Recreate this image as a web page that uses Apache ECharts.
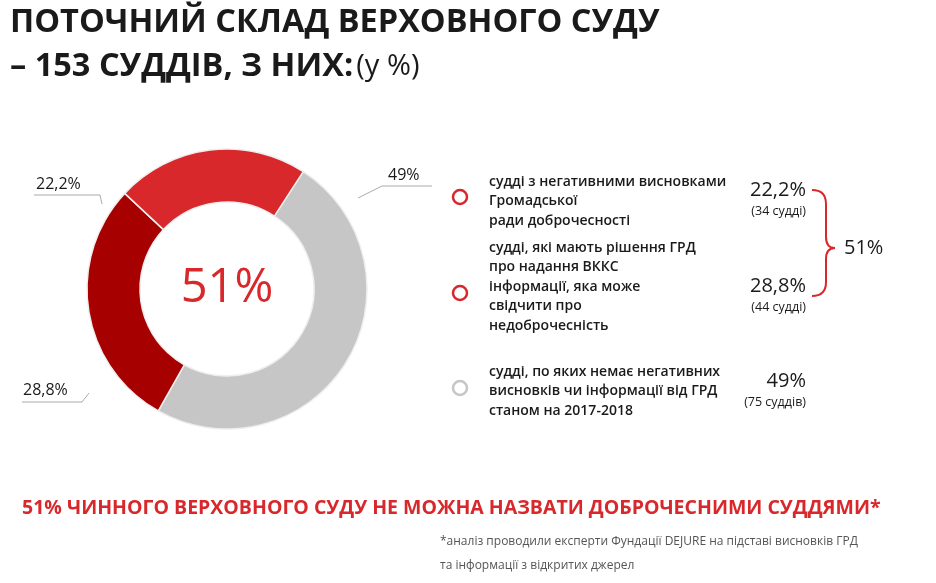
<!DOCTYPE html>
<html><head><meta charset="utf-8">
<script src="https://cdn.jsdelivr.net/npm/echarts@6/dist/echarts.min.js"></script>
<style>html,body{margin:0;background:#fff}#c{width:936px;height:583px}</style>
</head><body><div id="c"></div>
<script>
const categories = ['49%', '28,8%', '22,2%'];
const values = [49, 28.8, 22.2];
const colors = ['#c6c6c6', '#a60000', '#d9282b'];
const legendTexts = [
  'судді з негативними висновками\nГромадської\nради доброчесності',
  'судді, які мають рішення ГРД\nпро надання ВККС\nінформації, яка може\nсвідчити про\nнедоброчесність',
  'судді, по яких немає негативних\nвисновків чи інформації від ГРД\nстаном на 2017-2018'
];
const legendValues = ['22,2%', '28,8%', '49%'];
const legendCounts = ['(34 судді)', '(44 судді)', '(75 суддів)'];
const F = '"Open Sans", Lato, sans-serif';
const chart = echarts.init(document.getElementById('c'));
const dark = '#1a1a1a';
function T(x, y, text, size, opt) {
  return {type:'text', x:x, y:y, style:Object.assign({text:text, fontSize:size, fontFamily:F, fill:dark}, opt||{})};
}
const red = '#d9282b';
const g = [
  T(10, 6, 'ПОТОЧНИЙ СКЛАД ВЕРХОВНОГО СУДУ', 32.5, {fontWeight:'bold'}),
  {type:'text', x:10, y:50, style:{text:'{a|– 153 СУДДІВ, З НИХ:} {b|(у %)}', fontFamily:F,
    rich:{a:{fontSize:32.5, fontWeight:'bold', fontFamily:F, fill:dark, color:dark}, b:{fontSize:29, fontFamily:F, fill:dark, color:dark}}}},
  T(227, 289, '51%', 47, {fill:red, align:'center', verticalAlign:'middle'}),
  T(36, 184, '22,2%', 16, {verticalAlign:'middle', fontWeight:500}),
  {type:'polyline', shape:{points:[[34,195],[100,195],[102,204]]}, style:{stroke:'#aaa', lineWidth:1, fill:null}},
  T(388, 175, '49%', 16, {verticalAlign:'middle', fontWeight:500}),
  {type:'polyline', shape:{points:[[358,198],[382,186],[432,186]]}, style:{stroke:'#aaa', lineWidth:1, fill:null}},
  T(23, 390, '28,8%', 16, {verticalAlign:'middle', fontWeight:500}),
  {type:'polyline', shape:{points:[[22,402],[82,402],[89,393]]}, style:{stroke:'#aaa', lineWidth:1, fill:null}},
  {type:'bezierCurve', shape:{x1:812,y1:190,cpx1:826,cpy1:190,x2:826,y2:204}, style:{stroke:red, lineWidth:2, fill:null}},
  {type:'line', shape:{x1:826,y1:204,x2:826,y2:237}, style:{stroke:red, lineWidth:2}},
  {type:'bezierCurve', shape:{x1:826,y1:237,cpx1:826,cpy1:248,x2:835,y2:248}, style:{stroke:red, lineWidth:2, fill:null}},
  {type:'bezierCurve', shape:{x1:835,y1:248,cpx1:826,cpy1:248,x2:826,y2:259}, style:{stroke:red, lineWidth:2, fill:null}},
  {type:'line', shape:{x1:826,y1:259,x2:826,y2:282}, style:{stroke:red, lineWidth:2}},
  {type:'bezierCurve', shape:{x1:826,y1:282,cpx1:826,cpy1:296,x2:812,y2:296}, style:{stroke:red, lineWidth:2, fill:null}},
  T(844, 248, '51%', 20, {verticalAlign:'middle'}),
  T(22, 498, '51% ЧИННОГО ВЕРХОВНОГО СУДУ НЕ МОЖНА НАЗВАТИ ДОБРОЧЕСНИМИ СУДДЯМИ*', 19.5, {fontWeight:'bold', fill:red}),
  T(440, 530, '*аналіз проводили експерти Фундації DEJURE на підставі висновків ГРД\nта інформації з відкритих джерел', 12, {fill:'#555', lineHeight:24})
];
const legY = [197, 293, 388];
const textTop = [172, 238, 362];
const valY = [190, 286, 381];
const circ = [red, red, '#c6c6c6'];
for (let i = 0; i < 3; i++) {
  g.push({type:'circle', shape:{cx:460, cy:legY[i], r:7}, style:{stroke:circ[i], lineWidth:2.5, fill:'#fff'}});
  g.push(T(489, textTop[i], legendTexts[i], 14, {fontWeight:600, lineHeight:19.5}));
  g.push(T(806, valY[i], legendValues[i], 20, {align:'right', verticalAlign:'middle'}));
  g.push(T(806, valY[i]+21, legendCounts[i], 12.5, {align:'right', verticalAlign:'middle'}));
}
chart.setOption({
  animation:false,
  series:[{type:'pie', center:[227,289], radius:[87,140], startAngle:57, clockwise:true,
    label:{show:false}, labelLine:{show:false},
    itemStyle:{borderColor:'#eee', borderWidth:1.5},
    data: categories.map((c,i)=>({name:c, value:values[i], itemStyle:{color:colors[i]}}))}],
  graphic: g
});
</script></body></html>
